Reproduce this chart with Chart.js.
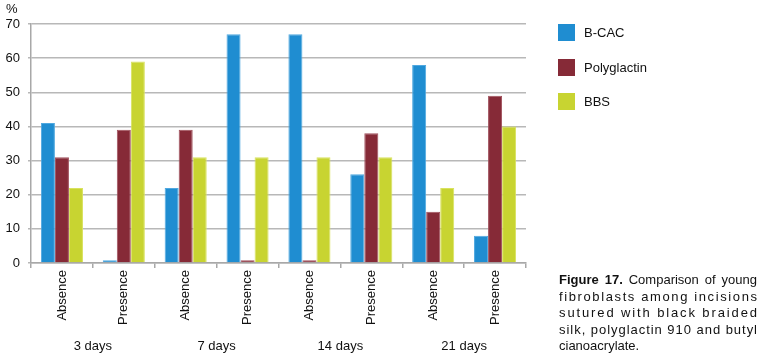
<!DOCTYPE html>
<html><head><meta charset="utf-8">
<script src="https://cdn.jsdelivr.net/npm/chart.js@4.4.1/dist/chart.umd.min.js"></script>
<style>
html,body{margin:0;padding:0;background:#fff;}
#wrap{position:relative;width:757px;height:356px;overflow:hidden;font-family:"Liberation Sans",Arial,sans-serif;color:#111;}
#c{position:absolute;left:0;top:0;}
#pct{position:absolute;left:6px;top:1px;font-size:13px;}
.leg{position:absolute;left:558px;font-size:13px;line-height:17px;}
.leg i{position:absolute;left:0;top:0;width:17px;height:17px;}
.leg span{position:absolute;left:26px;top:0;white-space:nowrap;}
#cap{position:absolute;left:559px;top:272px;width:198px;font-size:13px;line-height:16.5px;}
#cap span{display:block;white-space:nowrap;}
#cap span.j{text-align:justify;text-align-last:justify;}
</style></head>
<body><div id="wrap"><canvas id="c" width="757" height="356"></canvas><div id="pct">%</div><div id="legend"></div><div id="cap"></div></div>
<script>
const categories = ["Absence","Presence","Absence","Presence","Absence","Presence","Absence","Presence"];
const groups = ["3 days","7 days","14 days","21 days"];
const seriesNames = ["B-CAC","Polyglactin","BBS"];
const bcac = [41, 0.8, 22, 67, 67, 26, 58, 8];
const polyglactin = [31, 39, 39, 0.8, 0.8, 38, 15, 49];
const bbs = [22, 59, 31, 31, 31, 31, 22, 40];
const yTicks = [0,10,20,30,40,50,60,70];
const captionLines = ["<b>Figure 17.</b> Comparison of young","fibroblasts among incisions","sutured with black braided","silk, polyglactin 910 and butyl","cianoacrylate."];

const colors = ["#1F8DD1","#862A37","#C8D431"];
const borders = ["#4FA8E0","#A0505C","#D9E25E"];
const values = [bcac, polyglactin, bbs];

const legend = document.getElementById('legend');
seriesNames.forEach((n,i)=>{
  const d=document.createElement('div');d.className='leg';d.style.top=(24+i*34.5)+'px';
  d.innerHTML='<i style="background:'+colors[i]+'"></i><span>'+n+'</span>';
  legend.appendChild(d);
});
const cap = document.getElementById('cap');
const W = 198;
captionLines.forEach((l,i)=>{
  const s=document.createElement('span');
  s.innerHTML=l;
  cap.appendChild(s);
  if(i===0){ s.className='j'; }
  else if(i<captionLines.length-1){
    s.style.display='inline-block';
    const w=s.getBoundingClientRect().width;
    const n=s.textContent.length;
    s.style.letterSpacing=((W-w)/(n-1))+'px';
    s.style.display='block';
  }
});

const font = {family:"'Liberation Sans', Arial, sans-serif", size:13};
new Chart(document.getElementById('c'), {
  type:'bar',
  data:{labels:categories, datasets: seriesNames.map((n,i)=>({label:n,data:values[i],backgroundColor:colors[i],borderColor:borders[i],borderWidth:1,categoryPercentage:0.68,barPercentage:1}))},
  options:{
    responsive:false, animation:false, devicePixelRatio:1,
    layout:{padding:{top:24,right:231,left:0,bottom:0}},
    plugins:{legend:{display:false},tooltip:{enabled:false}},
    scales:{
      x:{type:'category',position:'bottom',offset:true,
        grid:{display:true,drawOnChartArea:false,drawTicks:true,tickLength:5,color:'#a8a8a8',lineWidth:1.5,offset:true},
        border:{display:true,color:'#a8a8a8',width:1.5},
        ticks:{autoSkip:false,minRotation:90,maxRotation:90,padding:2,color:'#111',font:font},
        afterFit:(s)=>{s.height=68;}
      },
      x2:{type:'category',position:'bottom',labels:groups,offset:true,
        grid:{display:false},border:{display:false},
        ticks:{autoSkip:false,maxRotation:0,padding:0,color:'#111',font:font},
        afterFit:(s)=>{s.height=25;}
      },
      y:{min:0,max:70,
        afterBuildTicks:(s)=>{s.ticks=yTicks.map(v=>({value:v}));},
        grid:{color:'#b8b8b8',lineWidth:1.5,drawTicks:true,tickLength:3},
        border:{display:true,color:'#a8a8a8',width:1.5},
        ticks:{padding:8,color:'#111',font:font},
        afterFit:(s)=>{s.width=31;}
      }
    }
  }
});
</script></body></html>
